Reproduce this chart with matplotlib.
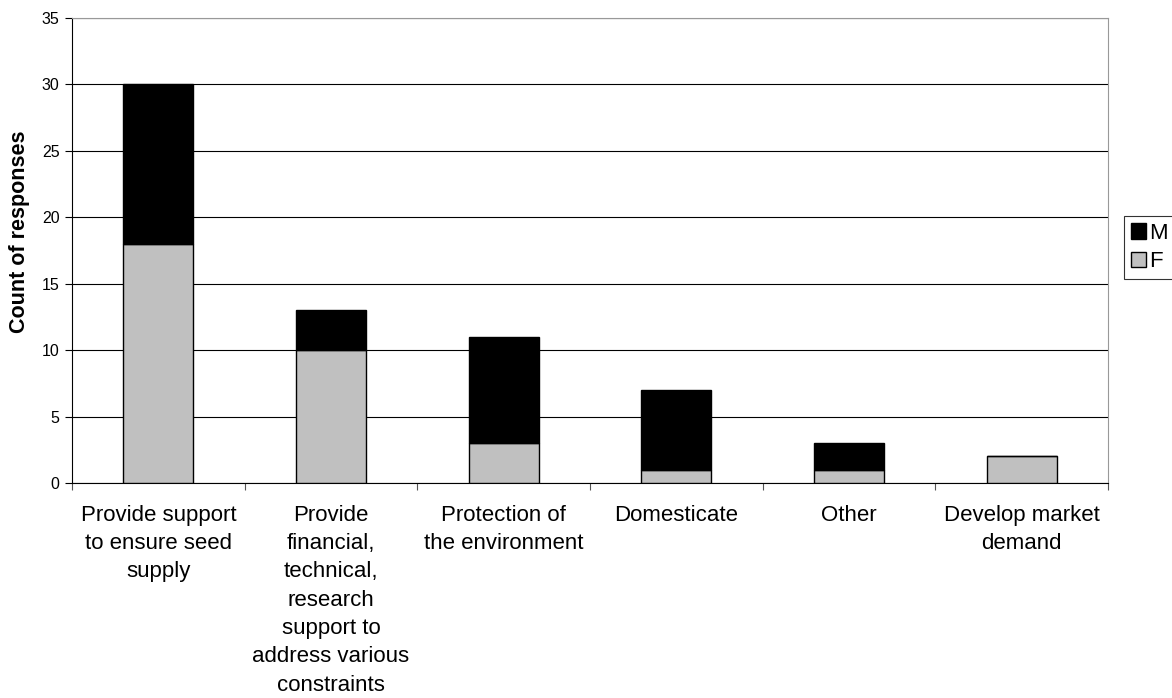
import matplotlib
matplotlib.use("Agg")
import matplotlib.pyplot as plt
import numpy as np

plt.rcParams['font.family'] = ['Liberation Sans', 'DejaVu Sans']

categories = ["Provide support\nto ensure seed\nsupply",
              "Provide\nfinancial,\ntechnical,\nresearch\nsupport to\naddress various\nconstraints",
              "Protection of\nthe environment",
              "Domesticate",
              "Other",
              "Develop market\ndemand"]
F_vals = [18, 10, 3, 1, 1, 2]
M_vals = [12, 3, 8, 6, 2, 0]
yticks = [0, 5, 10, 15, 20, 25, 30, 35]

fig = plt.figure(figsize=(11.72, 6.98), dpi=100)
ax = fig.add_axes([72/1172, 1 - 483/698, (1108-72)/1172, (483-18)/698])

x = np.arange(len(categories))
w = 0.405
ax.bar(x, F_vals, w, color="#C0C0C0", edgecolor="black", linewidth=1.0, label="F", zorder=3)
ax.bar(x, M_vals, w, bottom=F_vals, color="black", edgecolor="black", linewidth=1.0, label="M", zorder=3)

ax.set_xlim(-0.5, len(categories) - 0.5)
ax.set_ylim(0, 35)
ax.set_yticks(yticks)
ax.set_yticklabels([str(v) for v in yticks], fontsize=11.5)
ax.yaxis.grid(True, color="black", linewidth=0.8, zorder=0)
ax.set_axisbelow(True)

ax.set_xticks(np.arange(len(categories) + 1) - 0.5)
ax.set_xticklabels([])
ax.set_xticks(x, minor=True)
ax.set_xticklabels(categories, minor=True, fontsize=16, va="top", ha="center", linespacing=1.46)
ax.tick_params(axis="x", which="minor", length=0, pad=15.5)
ax.tick_params(axis="x", which="major", length=5, direction="out", color="#555555")
ax.tick_params(axis="y", length=5, direction="out", pad=4)

ax.spines['top'].set_color("#999999")
ax.spines['right'].set_color("#999999")
ax.spines['left'].set_color("black")
ax.spines['bottom'].set_color("black")

ax.set_ylabel("Count of responses", fontsize=15.5, fontweight="bold")
ax.yaxis.set_label_coords(-0.0405, 0.54)

handles, labels = ax.get_legend_handles_labels()
leg = fig.legend(handles[::-1], labels[::-1], loc="upper left",
                 bbox_to_anchor=(1124/1172, 1 - 216/698), fontsize=16,
                 frameon=True, fancybox=False, edgecolor="black",
                 handlelength=0.68, handleheight=0.68, handletextpad=0.15,
                 borderpad=0.3, labelspacing=0.35, borderaxespad=0)
leg.get_frame().set_linewidth(0.8)

fig.savefig("out.png", dpi=100)
